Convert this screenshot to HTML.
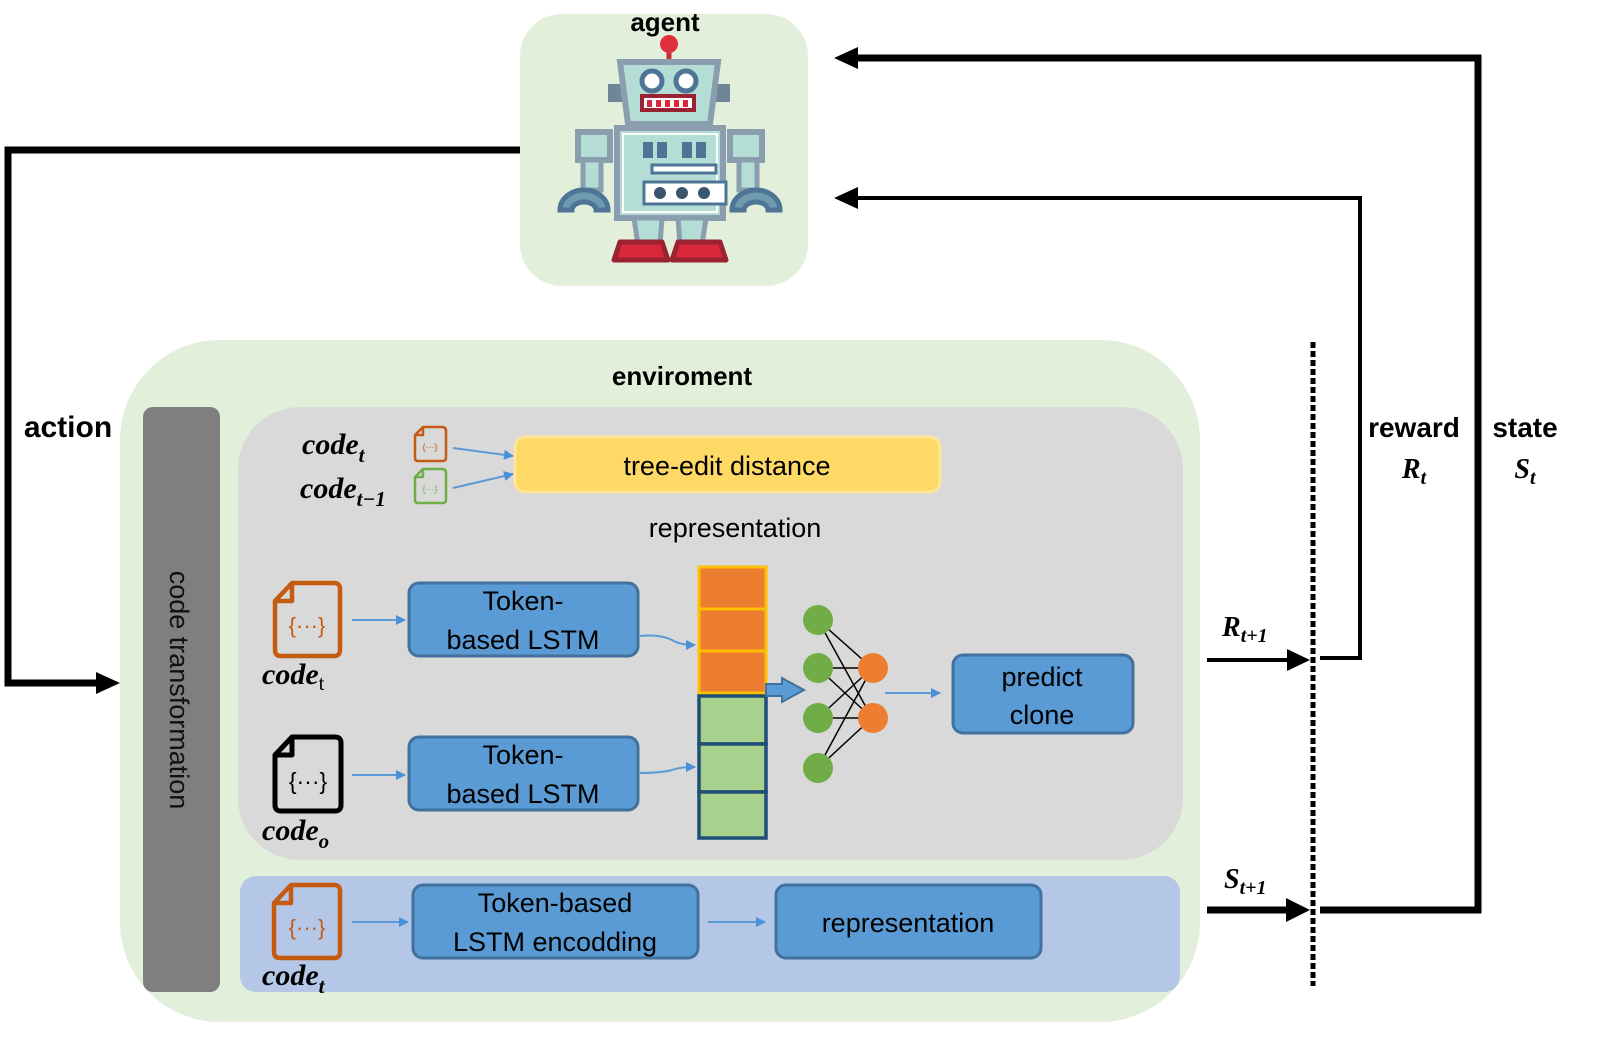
<!DOCTYPE html>
<html><head><meta charset="utf-8"><style>
html,body{margin:0;padding:0;background:#fff;}
svg{display:block;font-family:"Liberation Sans",sans-serif;}
.b{font-weight:bold;}
.m{font-family:"Liberation Serif",serif;font-style:italic;font-weight:bold;}
</style></head><body>
<svg width="1609" height="1063" viewBox="0 0 1609 1063" xmlns="http://www.w3.org/2000/svg">
<defs>
<marker id="ab" markerWidth="10" markerHeight="10" refX="9" refY="5" orient="auto" markerUnits="userSpaceOnUse"><path d="M0,0 L10,5 L0,10 Z" fill="#4a90d9"/></marker>
</defs>
<!-- agent -->
<rect x="520" y="14" width="288" height="272" rx="42" fill="#e2efda"/>
<text x="665" y="31" font-size="26" class="b" text-anchor="middle">agent</text>
<!-- robot -->
<g>
<line x1="669" y1="46" x2="669" y2="62" stroke="#c0303a" stroke-width="5"/>
<circle cx="669" cy="44" r="9" fill="#e0303e"/>
<rect x="608" y="84" width="16" height="18" fill="#6f8696"/>
<rect x="714" y="84" width="16" height="18" fill="#6f8696"/>
<path d="M620,62 L718,62 L710,124 L628,124 Z" fill="#b3ddd5" stroke="#8a9eaf" stroke-width="6"/>
<circle cx="652" cy="81" r="10" fill="#fff" stroke="#4e7596" stroke-width="5"/>
<circle cx="686" cy="81" r="10" fill="#fff" stroke="#4e7596" stroke-width="5"/>
<rect x="642" y="96" width="52" height="14" fill="#fff" stroke="#9b2230" stroke-width="4"/>
<g fill="#d8283a"><rect x="647" y="100" width="5" height="7"/><rect x="656" y="100" width="5" height="7"/><rect x="665" y="100" width="5" height="7"/><rect x="674" y="100" width="5" height="7"/><rect x="683" y="100" width="5" height="7"/></g>
<rect x="578" y="132" width="32" height="28" fill="#b3ddd5" stroke="#8a9eaf" stroke-width="6"/>
<rect x="730" y="132" width="32" height="28" fill="#b3ddd5" stroke="#8a9eaf" stroke-width="6"/>
<rect x="583" y="160" width="18" height="30" fill="#b3ddd5" stroke="#8a9eaf" stroke-width="5"/>
<rect x="739" y="160" width="18" height="30" fill="#b3ddd5" stroke="#8a9eaf" stroke-width="5"/>
<path d="M560,210 A24,20 0 0 1 608,210 L596,210 A12,8 0 0 0 572,210 Z" fill="#6f9ab0" stroke="#4e7596" stroke-width="5"/>
<path d="M732,210 A24,20 0 0 1 780,210 L768,210 A12,8 0 0 0 744,210 Z" fill="#6f9ab0" stroke="#4e7596" stroke-width="5"/>
<rect x="617" y="128" width="106" height="90" fill="#b3ddd5" stroke="#8a9eaf" stroke-width="6"/>
<rect x="623" y="134" width="94" height="78" fill="none" stroke="#fff" stroke-width="2"/>
<g fill="#4e7596"><rect x="643" y="142" width="10" height="16"/><rect x="657" y="142" width="10" height="16"/><rect x="682" y="142" width="10" height="16"/><rect x="696" y="142" width="10" height="16"/></g>
<rect x="652" y="165" width="64" height="8" fill="#fff" stroke="#4e7596" stroke-width="3"/>
<rect x="644" y="182" width="82" height="22" fill="#fff" stroke="#4e7596" stroke-width="3"/>
<circle cx="660" cy="193" r="6" fill="#3b556e"/><circle cx="682" cy="193" r="6" fill="#3b556e"/><circle cx="704" cy="193" r="6" fill="#3b556e"/>
<path d="M634,218 L662,218 L660,245 L638,245 Z" fill="#b3ddd5" stroke="#8a9eaf" stroke-width="5"/>
<path d="M678,218 L706,218 L702,245 L680,245 Z" fill="#b3ddd5" stroke="#8a9eaf" stroke-width="5"/>
<path d="M620,242 L662,242 L668,260 L614,260 Z" fill="#d8283a" stroke="#9b2230" stroke-width="5" stroke-linejoin="round"/>
<path d="M678,242 L720,242 L726,260 L672,260 Z" fill="#d8283a" stroke="#9b2230" stroke-width="5" stroke-linejoin="round"/>
</g>
<!-- feedback arrows -->
<polyline points="1320,910 1478,910 1478,58 850,58" fill="none" stroke="#000" stroke-width="7"/>
<path d="M834,58 L858,47 L858,69 Z" fill="#000"/>
<polyline points="1320,658 1360,658 1360,198 850,198" fill="none" stroke="#000" stroke-width="4"/>
<path d="M834,198 L858,187 L858,209 Z" fill="#000"/>
<polyline points="520,150 8,150 8,683 100,683" fill="none" stroke="#000" stroke-width="7"/>
<path d="M120,683 L96,672 L96,694 Z" fill="#000"/>
<text x="68" y="437" font-size="30" class="b" text-anchor="middle">action</text>
<text x="1414" y="437" font-size="28" class="b" text-anchor="middle">reward</text>
<text x="1414" y="478" font-size="28" class="m" text-anchor="middle">R<tspan font-size="20" dy="6">t</tspan></text>
<text x="1525" y="437" font-size="28" class="b" text-anchor="middle">state</text>
<text x="1525" y="478" font-size="28" class="m" text-anchor="middle">S<tspan font-size="20" dy="6">t</tspan></text>
<!-- environment -->
<rect x="120" y="340" width="1080" height="682" rx="100" fill="#e2efda"/>
<text x="682" y="385" font-size="26" class="b" text-anchor="middle">enviroment</text>
<rect x="143" y="407" width="77" height="585" rx="10" fill="#7f7f7f"/>
<text transform="translate(170,690) rotate(90)" font-size="27" text-anchor="middle" fill="#111">code transformation</text>
<rect x="238" y="407" width="945" height="453" rx="62" fill="#d9d9d9"/>
<rect x="240" y="876" width="940" height="116" rx="16" fill="#b4c7e7"/>
<!-- dotted line and outputs -->
<line x1="1313" y1="342" x2="1313" y2="986" stroke="#000" stroke-width="5" stroke-dasharray="6,3"/>
<line x1="1207" y1="660" x2="1290" y2="660" stroke="#000" stroke-width="4"/>
<path d="M1310,660 L1287,649 L1287,671 Z" fill="#000"/>
<line x1="1207" y1="910" x2="1290" y2="910" stroke="#000" stroke-width="7"/>
<path d="M1310,910 L1286,898 L1286,922 Z" fill="#000"/>
<text x="1222" y="636" font-size="28" class="m">R<tspan font-size="20" dy="6">t+1</tspan></text>
<text x="1224" y="888" font-size="28" class="m">S<tspan font-size="20" dy="6">t+1</tspan></text>
<!-- top tree-edit -->
<text x="302" y="454" font-size="30" class="m">code<tspan font-size="21" dy="8">t</tspan></text>
<text x="300" y="498" font-size="30" class="m">code<tspan font-size="21" dy="8">t−1</tspan></text>
<path d="M423,427 L442,427 Q446,427 446,431 L446,458 Q446,461 442,461 L418,461 Q415,461 415,458 L415,435 Z M415,435 L423,435 L423,427" fill="none" stroke="#c55a11" stroke-width="2.5" stroke-linejoin="round"/>
<text x="430" y="450" font-size="9" fill="#c55a11" text-anchor="middle">{···}</text>
<path d="M423,469 L442,469 Q446,469 446,473 L446,500 Q446,503 442,503 L418,503 Q415,503 415,500 L415,477 Z M415,477 L423,477 L423,469" fill="none" stroke="#70ad47" stroke-width="2.5" stroke-linejoin="round"/>
<text x="430" y="492" font-size="9" fill="#70ad47" text-anchor="middle">{···}</text>
<line x1="453" y1="448" x2="513" y2="456" stroke="#5b9bd5" stroke-width="2" marker-end="url(#ab)"/>
<line x1="453" y1="488" x2="513" y2="474" stroke="#5b9bd5" stroke-width="2" marker-end="url(#ab)"/>
<rect x="515" y="437" width="425" height="55" rx="10" fill="#ffd966" stroke="#ffe699" stroke-width="3"/>
<text x="727" y="475" font-size="27" text-anchor="middle">tree-edit distance</text>
<text x="735" y="537" font-size="27" text-anchor="middle">representation</text>
<!-- big icons -->
<path d="M292,583 L334,583 Q340,583 340,589 L340,650 Q340,656 334,656 L281,656 Q275,656 275,650 L275,601 Z M275,601 L292,601 L292,583" fill="none" stroke="#c55a11" stroke-width="4.5" stroke-linejoin="round"/>
<text x="307" y="633" font-size="22" fill="#c55a11" text-anchor="middle">{···}</text>
<text x="262" y="684" font-size="30" class="m">code<tspan font-size="21" dy="6" font-weight="normal" font-style="normal">t</tspan></text>
<path d="M292,737 L335,737 Q341,737 341,743 L341,805 Q341,811 335,811 L281,811 Q275,811 275,805 L275,755 Z M275,755 L292,755 L292,737" fill="none" stroke="#000" stroke-width="5" stroke-linejoin="round"/>
<text x="308" y="789" font-size="23" text-anchor="middle">{···}</text>
<text x="262" y="840" font-size="30" class="m">code<tspan font-size="21" dy="8">o</tspan></text>
<path d="M291,885 L334,885 Q340,885 340,891 L340,952 Q340,958 334,958 L280,958 Q274,958 274,952 L274,903 Z M274,903 L291,903 L291,885" fill="none" stroke="#c55a11" stroke-width="4.5" stroke-linejoin="round"/>
<text x="307" y="935" font-size="22" fill="#c55a11" text-anchor="middle">{···}</text>
<text x="262" y="985" font-size="30" class="m">code<tspan font-size="21" dy="8">t</tspan></text>
<!-- LSTMs -->
<line x1="352" y1="620" x2="405" y2="620" stroke="#5b9bd5" stroke-width="2" marker-end="url(#ab)"/>
<line x1="352" y1="775" x2="405" y2="775" stroke="#5b9bd5" stroke-width="2" marker-end="url(#ab)"/>
<rect x="409" y="583" width="229" height="73" rx="10" fill="#5b9bd5" stroke="#41719c" stroke-width="3"/>
<text x="523" y="610" font-size="27" text-anchor="middle">Token-</text>
<text x="523" y="649" font-size="27" text-anchor="middle">based LSTM</text>
<rect x="409" y="737" width="229" height="73" rx="10" fill="#5b9bd5" stroke="#41719c" stroke-width="3"/>
<text x="523" y="764" font-size="27" text-anchor="middle">Token-</text>
<text x="523" y="803" font-size="27" text-anchor="middle">based LSTM</text>
<path d="M640,636 Q660,634 672,640 Q680,645 695,645" fill="none" stroke="#5b9bd5" stroke-width="2" marker-end="url(#ab)"/>
<path d="M640,773 Q660,773 672,770 Q680,767 695,767" fill="none" stroke="#5b9bd5" stroke-width="2" marker-end="url(#ab)"/>
<!-- column -->
<g stroke="#ffc000" stroke-width="3" fill="#ed7d31">
<rect x="699" y="567" width="67" height="42"/><rect x="699" y="609" width="67" height="42"/><rect x="699" y="651" width="67" height="42"/>
</g>
<g stroke="#1f4e79" stroke-width="3.5" fill="#a9d18e">
<rect x="699" y="696" width="67" height="48"/><rect x="699" y="744" width="67" height="48"/><rect x="699" y="792" width="67" height="46"/>
</g>
<path d="M766,684 L782,684 L782,678 L804,690 L782,702 L782,696 L766,696 Z" fill="#5b9bd5" stroke="#41719c" stroke-width="2"/>
<!-- net -->
<g stroke="#000" stroke-width="1.5">
<line x1="818" y1="620" x2="872" y2="668"/><line x1="818" y1="620" x2="872" y2="718"/>
<line x1="818" y1="668" x2="872" y2="668"/><line x1="818" y1="668" x2="872" y2="718"/>
<line x1="818" y1="718" x2="872" y2="668"/><line x1="818" y1="718" x2="872" y2="718"/>
<line x1="818" y1="768" x2="872" y2="668"/><line x1="818" y1="768" x2="872" y2="718"/>
</g>
<g fill="#70ad47"><circle cx="818" cy="620" r="15"/><circle cx="818" cy="668" r="15"/><circle cx="818" cy="718" r="15"/><circle cx="818" cy="768" r="15"/></g>
<g fill="#ed7d31"><ellipse cx="873" cy="668" rx="15" ry="15"/><ellipse cx="873" cy="718" rx="15" ry="15"/></g>
<line x1="885" y1="693" x2="940" y2="693" stroke="#5b9bd5" stroke-width="2" marker-end="url(#ab)"/>
<rect x="953" y="655" width="180" height="78" rx="10" fill="#5b9bd5" stroke="#41719c" stroke-width="3"/>
<text x="1042" y="686" font-size="27" text-anchor="middle">predict</text>
<text x="1042" y="724" font-size="27" text-anchor="middle">clone</text>
<!-- bottom -->
<line x1="352" y1="922" x2="408" y2="922" stroke="#5b9bd5" stroke-width="2" marker-end="url(#ab)"/>
<rect x="413" y="885" width="285" height="73" rx="10" fill="#5b9bd5" stroke="#41719c" stroke-width="3"/>
<text x="555" y="912" font-size="27" text-anchor="middle">Token-based</text>
<text x="555" y="951" font-size="27" text-anchor="middle">LSTM encodding</text>
<line x1="708" y1="922" x2="765" y2="922" stroke="#5b9bd5" stroke-width="2" marker-end="url(#ab)"/>
<rect x="776" y="885" width="265" height="73" rx="10" fill="#5b9bd5" stroke="#41719c" stroke-width="3"/>
<text x="908" y="932" font-size="27" text-anchor="middle">representation</text>
</svg>
</body></html>
